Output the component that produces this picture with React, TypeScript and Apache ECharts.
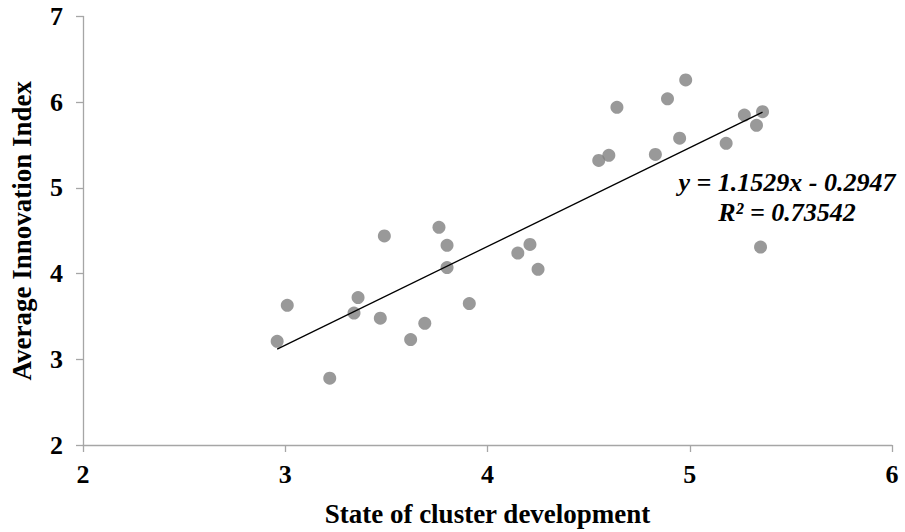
import React, { useEffect, useRef } from "react";
import * as echarts from "echarts";

const clusterState = [2.96, 3.01, 3.22, 3.34, 3.36, 3.47, 3.49, 3.62, 3.69, 3.76, 3.8, 3.8, 3.91, 4.15, 4.21, 4.25, 4.55, 4.6, 4.64, 4.83, 4.89, 4.95, 4.98, 5.18, 5.27, 5.33, 5.36, 5.35];
const innovationIndex = [3.21, 3.63, 2.78, 3.54, 3.72, 3.48, 4.44, 3.23, 3.42, 4.54, 4.33, 4.07, 3.65, 4.24, 4.34, 4.05, 5.32, 5.38, 5.94, 5.39, 6.04, 5.58, 6.26, 5.52, 5.85, 5.73, 5.89, 4.31];
const trendX = [2.96, 5.36];
const trendY = [3.118, 5.885];
const equationLines = ["y = 1.1529x - 0.2947", "R² = 0.73542"];
const xTitle = "State of cluster development";
const yTitle = "Average Innovation Index";

const FONT = "'Liberation Serif', 'Times New Roman', serif";

export default function App() {
  const ref = useRef<HTMLDivElement>(null);
  useEffect(() => {
    if (!ref.current) return;
    const chart = echarts.init(ref.current, null, { renderer: "svg" });
    const axisCommon = {
      type: "value" as const,
      interval: 1,
      splitLine: { show: false },
      axisLine: { show: true, onZero: false, lineStyle: { color: "#A6A6A6", width: 1.3 } },
      axisTick: { show: true, length: 7, lineStyle: { color: "#A6A6A6", width: 1.3 } },
      axisLabel: { color: "#000", fontFamily: FONT, fontWeight: "bold" as const, fontSize: 26 },
      nameTextStyle: { color: "#000", fontFamily: FONT, fontWeight: "bold" as const, fontSize: 27 },
    };
    chart.setOption({
      animation: false,
      grid: { left: 76, right: 13, top: 16.5, bottom: 86, containLabel: false },
      xAxis: {
        ...axisCommon,
        min: 2,
        max: 6,
        name: xTitle,
        nameLocation: "middle",
        nameGap: 55,
        axisLabel: { ...axisCommon.axisLabel, margin: 16 },
      },
      yAxis: {
        ...axisCommon,
        min: 2,
        max: 7,
        name: yTitle,
        nameLocation: "middle",
        nameRotate: 90,
        nameGap: 48,
        axisLabel: { ...axisCommon.axisLabel, margin: 20 },
      },
      series: [
        {
          type: "line",
          data: trendX.map((x, i) => [x, trendY[i]]),
          symbol: "none",
          lineStyle: { color: "#000", width: 1.3 },
          z: 3,
        },
        {
          type: "scatter",
          data: clusterState.map((x, i) => [x, innovationIndex[i]]),
          symbolSize: 13,
          itemStyle: { color: "#808080" },
          z: 2,
        },
      ],
      graphic: equationLines.map((t, i) => ({
        type: "text",
        x: 787,
        y: 182 + i * 30,
        style: {
          text: t,
          fill: "#000",
          font: `italic bold 26px ${FONT}`,
          textAlign: "center",
          textVerticalAlign: "middle",
        },
      })),
    });
    return () => chart.dispose();
  }, []);
  return (
    <div
      ref={ref}
      style={{ position: "absolute", left: 0, top: 0, width: 905, height: 532 }}
    />
  );
}
